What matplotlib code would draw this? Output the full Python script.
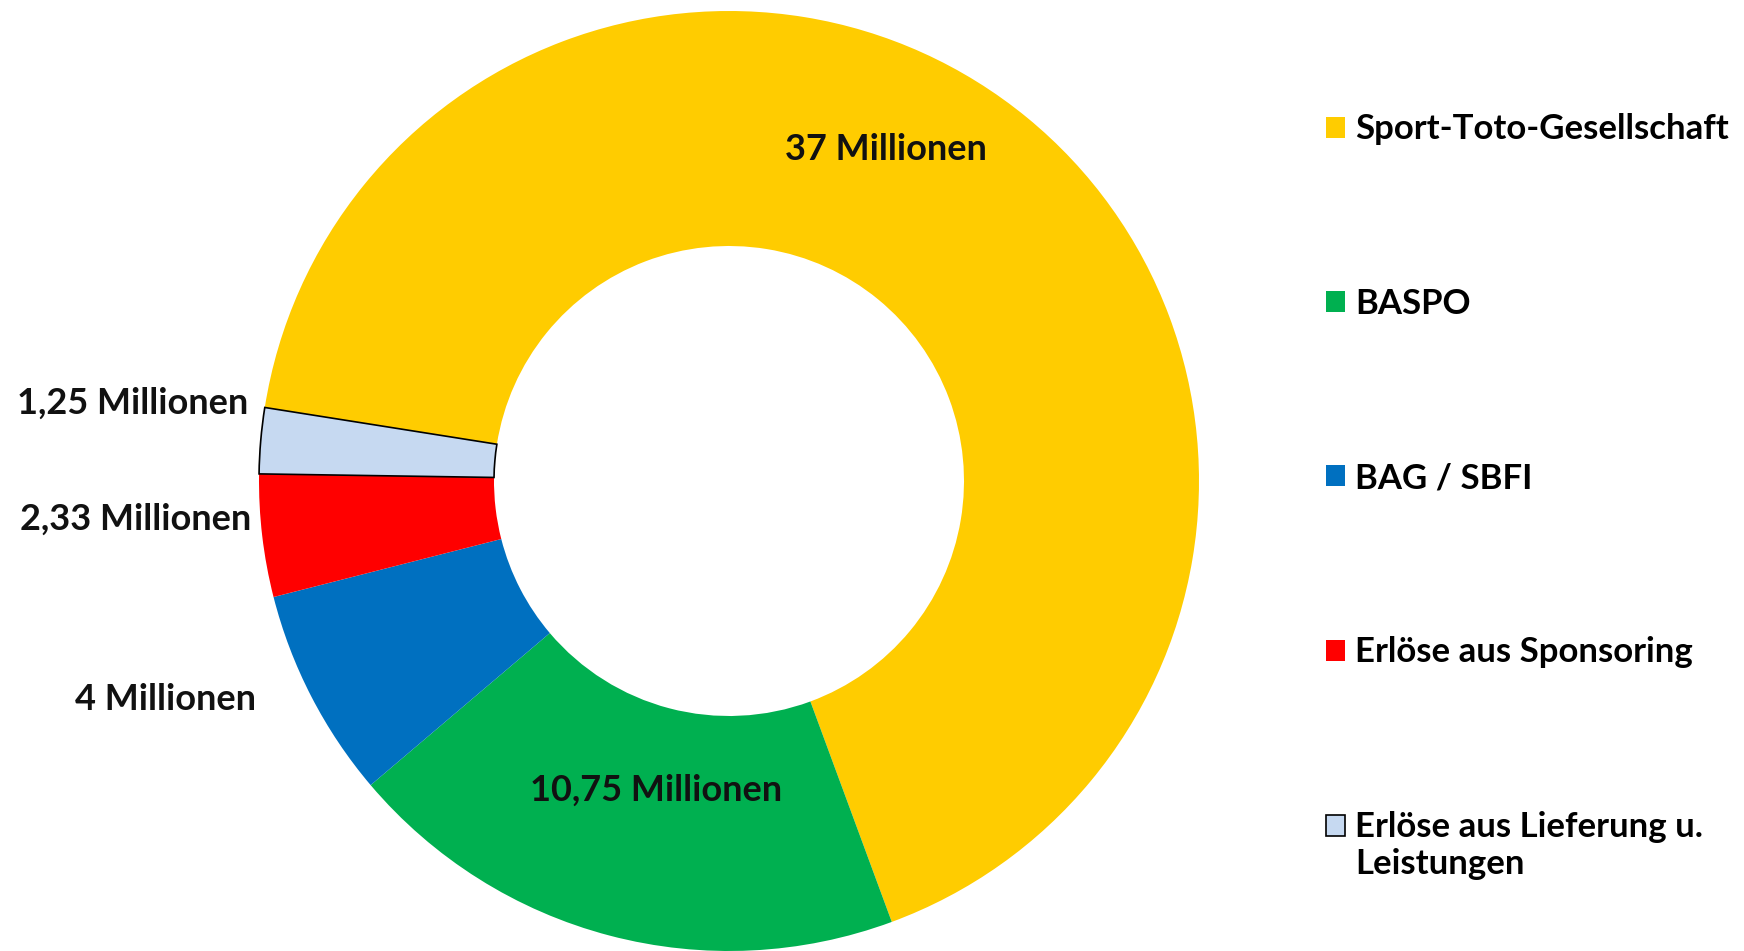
import matplotlib
matplotlib.use("Agg")
import matplotlib.pyplot as plt
from matplotlib.patches import Rectangle
from matplotlib.legend_handler import HandlerPatch

# Daten
kategorien = ["Sport-Toto-Gesellschaft", "BASPO", "BAG / SBFI",
              "Erlöse aus Sponsoring", "Erlöse aus Lieferung u.\nLeistungen"]
werte = [37, 10.75, 4, 2.33, 1.25]
beschriftungen = ["37 Millionen", "10,75 Millionen", "4 Millionen",
                  "2,33 Millionen", "1,25 Millionen"]
farben = ["#FFCC00", "#00B050", "#0070C0", "#FF0000", "#C6D9F1"]

plt.rcParams['font.family'] = ['Lato', 'DejaVu Sans']

W, H = 1744, 951
fig = plt.figure(figsize=(W / 100, H / 100), dpi=100)

# Ring: Mitte (729, 481) px, Radius 470 px
cx, cy, r = 729, 481, 470
ax = fig.add_axes([(cx - r) / W, (H - cy - r) / H, 2 * r / W, 2 * r / H])
wedges, _ = ax.pie(werte, colors=farben, startangle=171, counterclock=False,
                   wedgeprops=dict(width=0.5, linewidth=0))
wedges[-1].set_edgecolor("black")
wedges[-1].set_linewidth(1.2)
ax.set_xlim(-1, 1)
ax.set_ylim(-1, 1)
ax.set_aspect("equal")
ax.axis("off")

# Beschriftungen (Pixelposition im Bild)
pos = [(886, 150), (656, 790), (165, 700), (136, 519), (133, 403)]
for txt, (px, py) in zip(beschriftungen, pos):
    ax.text((px - cx) / r, (cy - py) / r, txt, ha="center", va="center",
            fontsize=26, fontweight="bold", color="#111111", clip_on=False)


# Kaestchen bei zweizeiligem Eintrag auf die erste Zeile setzen
def oben(legend, orig_handle, xdescent, ydescent, width, height, fontsize):
    return Rectangle((-xdescent, -ydescent + 0.6 * fontsize), width, height)


leg = fig.legend(wedges, kategorien, loc="upper left",
                 bbox_to_anchor=(1309 / W, 1 - 96 / H), frameon=False,
                 prop=dict(weight="bold", size=25), borderpad=0,
                 handlelength=0.55, handleheight=0.55, handletextpad=0.28,
                 labelspacing=4.1,
                 handler_map={wedges[-1]: HandlerPatch(patch_func=oben)})

fig.savefig("out.png", dpi=100)
